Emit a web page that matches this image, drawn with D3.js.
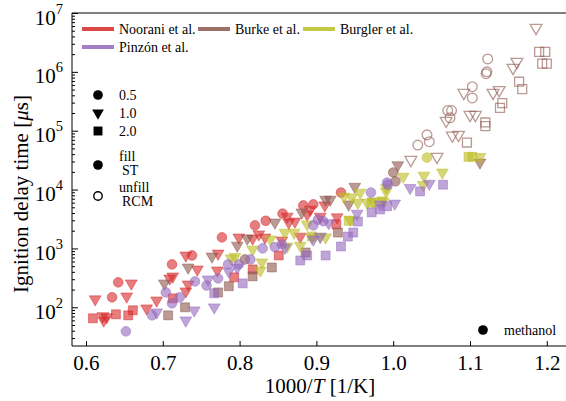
<!DOCTYPE html>
<meta charset="utf-8">
<script src="https://d3js.org/d3.v7.min.js"></script>
<style>
body{margin:0;background:#fff;}
svg{display:block;font-family:"Liberation Serif","Times New Roman",serif;}
</style>
<div id="chart"></div>
<script>
// series names + colours
var authors = ["Noorani et al.", "Burke et al.", "Burgler et al.", "Pinzón et al."]
var colors = ["#d62728", "#8c564b", "#bcbd22", "#9467bd"]
var pressures = ["0.5", "1.0", "2.0"]
var xTicks = [0.6, 0.7, 0.8, 0.9, 1.0, 1.1, 1.2]
var yTicks = [1e2, 1e3, 1e4, 1e5, 1e6, 1e7]

// [1000/T, ignition delay in us]
var nooraniCircle = [[0.642,265],[0.634,148],[0.712,535],[0.738,760],[0.777,1540],[0.820,2460],[0.834,2950],[0.856,3900],[0.883,5370],[0.896,5600],[0.932,8900]]
var nooraniTri = [[0.612,137],[0.622,71],[0.627,68],[0.623,60],[0.653,153],[0.659,255],[0.679,96],[0.692,131],[0.709,310],[0.713,335],[0.730,187],[0.733,245],[0.730,760],[0.745,440],[0.771,424],[0.772,820],[0.799,1540],[0.817,1480],[0.825,1740],[0.833,1540],[0.855,1370],[0.862,3480],[0.864,2760],[0.872,2870],[0.879,1590],[0.892,4560],[0.905,3480],[0.888,3780],[0.911,5400],[0.927,3390]]
var nooraniSquare = [[0.609,65],[0.639,76],[0.655,73],[0.661,89],[0.713,142],[0.793,323],[0.817,440],[0.851,760],[0.926,2570]]

var burkeCircle = [[0.807,650],[1.003,13800],[1.000,19500]]
var burkeTri = [[0.702,255],[0.733,475],[0.764,730],[0.797,1120],[0.810,1480],[0.846,2760],[0.881,4100],[0.912,6760],[0.918,6760],[0.942,5600],[0.950,11200],[1.006,26000],[1.113,28900]]
var burkeSquare = [[0.707,73],[0.729,100],[0.772,179],[0.786,228],[0.817,335],[0.842,475],[0.886,855],[0.928,1860]]
// RCM (open markers)
var burkeCircleRCM = [[1.123,1660000],[1.122,1000000],[1.121,930000],[1.103,560000],[1.103,360000],[1.071,220000],[1.076,220000],[1.074,166000],[1.044,85000],[1.047,65000],[1.032,57000]]
var burkeTriRCM = [[1.186,5600000],[1.161,1480000],[1.156,1170000],[1.138,490000],[1.130,440000],[1.092,440000],[1.069,148000],[1.100,186000],[1.107,186000],[1.077,83000],[1.085,85000],[1.023,32000],[1.057,36000]]
var burkeSquareRCM = [[1.190,2190000],[1.198,2190000],[1.194,1380000],[1.200,1380000],[1.164,680000],[1.168,510000],[1.142,295000],[1.139,245000],[1.120,138000],[1.120,120000],[1.096,63000]]

var burglerCircle = [[1.044,34900]]
var burglerTri = [[0.789,680],[0.794,720],[0.817,960],[0.827,424],[0.829,580],[0.840,1420],[0.859,1860],[0.871,1860],[0.862,1080],[0.879,1120],[0.888,2570],[0.894,1540],[0.905,1590],[0.912,1540],[0.936,7600],[0.946,7400],[0.944,3090],[0.954,6000],[0.966,6000],[0.974,6300],[0.987,6300],[0.991,9300],[1.013,16600],[1.039,12000],[1.040,17300],[1.064,19500],[1.113,36000],[0.957,8900],[0.991,10700]]
var burglerSquare = [[0.942,2950],[0.972,6000],[0.985,6300],[1.103,36000],[1.098,36000],[0.894,1600]]

var pinzonCircle = [[0.652,39],[0.686,73],[0.704,179],[0.712,117],[0.722,148],[0.742,275],[0.757,235],[0.772,310],[0.785,535],[0.799,535],[0.814,650],[0.830,1000],[0.846,1050],[0.855,1170],[0.896,2460],[0.909,2900],[0.902,3090],[0.971,8900],[0.993,12100],[0.992,13200]]
var pinzonTri = [[0.692,82],[0.730,60],[0.741,89],[0.767,100],[0.759,298],[0.786,405],[0.797,470],[0.859,1030],[0.896,1420],[0.905,1590],[0.916,2700],[0.953,3900],[0.983,5600],[1.002,5800],[1.022,10700],[1.047,12600]]
var pinzonSquare = [[0.767,173],[0.804,255],[0.879,625],[0.888,760],[0.912,760],[0.932,1080],[0.941,1590],[0.948,1860],[0.954,2870],[0.972,4100],[0.983,4600],[0.992,5200],[1.035,9300],[1.065,12100]]

var W = 566, H = 401
var pl = 72, pr = 566, pt = 13, pb = 346
var serif = "'Liberation Serif','Times New Roman',serif"

var svg = d3.select("#chart").append("svg").attr("width", W).attr("height", H)

var x = d3.scaleLinear().domain([0.5818, 1.225]).range([pl, pr])
var y = d3.scaleLog().domain([22, 1e7]).range([pb, pt])

var shapes = {
	circle: {type: d3.symbolCircle, size: 74, rot: 0},
	tri: {type: d3.symbolTriangle, size: 60, rot: 180},
	square: {type: d3.symbolSquare, size: 80, rot: 0}
}

var groups = [
	{data: nooraniCircle, c: 0, s: "circle"}, {data: nooraniTri, c: 0, s: "tri"}, {data: nooraniSquare, c: 0, s: "square"},
	{data: burkeCircle, c: 1, s: "circle"}, {data: burkeTri, c: 1, s: "tri"}, {data: burkeSquare, c: 1, s: "square"},
	{data: burkeCircleRCM, c: 1, s: "circle", open: true}, {data: burkeTriRCM, c: 1, s: "tri", open: true}, {data: burkeSquareRCM, c: 1, s: "square", open: true},
	{data: burglerCircle, c: 2, s: "circle"}, {data: burglerTri, c: 2, s: "tri"}, {data: burglerSquare, c: 2, s: "square"},
	{data: pinzonCircle, c: 3, s: "circle"}, {data: pinzonTri, c: 3, s: "tri"}, {data: pinzonSquare, c: 3, s: "square"}
]

var plot = svg.append("g")
groups.forEach(function(g){
	var sh = shapes[g.s]
	var col = colors[g.c]
	plot.selectAll(null).data(g.data).enter().append("path")
		.attr("d", d3.symbol().type(sh.type).size(sh.size))
		.attr("transform", function(d){ return "translate(" + x(d[0]) + "," + y(d[1]) + ") rotate(" + sh.rot + ")" })
		.attr("fill", g.open ? "none" : col)
		.attr("fill-opacity", 0.6)
		.attr("stroke", col)
		.attr("stroke-opacity", 0.6)
		.attr("stroke-width", g.open ? 1.3 : 0.8)
})

// axes
var xAxis = d3.axisBottom(x).tickValues(xTicks).tickFormat(d3.format(".1f")).tickSize(-5).tickPadding(9)
var gx = svg.append("g").attr("transform", "translate(0," + pb + ")").call(xAxis)
gx.attr("font-family", serif)
gx.select(".domain").attr("d", "M" + pl + ",0H" + pr)
gx.selectAll("text").attr("font-size", 21).attr("font-family", serif).attr("fill", "#000")

var minors = []
for (var e = 1; e < 7; e++) {
	for (var m = 2; m < 10; m++) {
		var v = m * Math.pow(10, e)
		if (v >= 22 && v <= 1e7) minors.push(v)
	}
}
var gyMinor = svg.append("g").attr("transform", "translate(" + pl + ",0)")
	.call(d3.axisLeft(y).tickValues(minors).tickFormat("").tickSize(-3))
gyMinor.select(".domain").remove()

var gy = svg.append("g").attr("transform", "translate(" + pl + ",0)")
	.call(d3.axisLeft(y).tickValues(yTicks).tickFormat("").tickSize(-6))
gy.attr("font-family", serif)
gy.select(".domain").attr("d", "M0," + pt + "V" + pb)
gy.selectAll(".tick").each(function(d){
	var t = d3.select(this).append("text").attr("x", -9).attr("y", 11)
		.attr("text-anchor", "end").attr("fill", "#000")
		.attr("font-size", 21).attr("font-family", serif)
	t.append("tspan").text("10")
	t.append("tspan").attr("dy", -11).attr("font-size", 14.5).text(Math.round(Math.log10(d)))
})

// top spine
svg.append("line").attr("x1", pl).attr("x2", pr).attr("y1", pt).attr("y2", pt)
	.attr("stroke", "#000").attr("stroke-width", 1.2)

// axis labels
var xl = svg.append("text").attr("x", 320).attr("y", 393).attr("text-anchor", "middle")
	.attr("font-size", 21)
xl.append("tspan").text("1000/")
xl.append("tspan").attr("font-style", "italic").text("T")
xl.append("tspan").text(" [1/K]")

var yl = svg.append("text").attr("transform", "translate(28,194) rotate(-90)").attr("text-anchor", "middle")
	.attr("font-size", 21)
yl.append("tspan").text("Ignition delay time [")
yl.append("tspan").attr("font-style", "italic").text("μ")
yl.append("tspan").text("s]")

// colour legend
var legPos = [[82, 29], [198, 29], [303, 29], [82, 47]]
authors.forEach(function(a, i){
	var p = legPos[i]
	svg.append("line").attr("x1", p[0]).attr("x2", p[0] + 32).attr("y1", p[1]).attr("y2", p[1])
		.attr("stroke", colors[i]).attr("stroke-width", 4).attr("stroke-opacity", 0.85)
	svg.append("text").attr("x", p[0] + 37).attr("y", p[1] + 4.5).attr("font-size", 14).text(a)
})

// marker legend
var shapeKeys = ["circle", "tri", "square"]
pressures.forEach(function(pv, i){
	var sh = shapes[shapeKeys[i]]
	var yy = 95 + i * 18
	svg.append("path").attr("d", d3.symbol().type(sh.type).size(sh.size))
		.attr("transform", "translate(98," + yy + ") rotate(" + sh.rot + ")").attr("fill", "#000")
	svg.append("text").attr("x", 119).attr("y", yy + 4.5).attr("font-size", 14).text(pv)
})
svg.append("path").attr("d", d3.symbol().type(d3.symbolCircle).size(74))
	.attr("transform", "translate(98,165)").attr("fill", "#000")
svg.append("text").attr("x", 119).attr("y", 161).attr("font-size", 14).text("fill")
svg.append("text").attr("x", 122).attr("y", 175).attr("font-size", 14).text("ST")
svg.append("path").attr("d", d3.symbol().type(d3.symbolCircle).size(56))
	.attr("transform", "translate(98,196)").attr("fill", "none").attr("stroke", "#000").attr("stroke-width", 1.4)
svg.append("text").attr("x", 119).attr("y", 192).attr("font-size", 14).text("unfill")
svg.append("text").attr("x", 122).attr("y", 206).attr("font-size", 14).text("RCM")

svg.append("path").attr("d", d3.symbol().type(d3.symbolCircle).size(74))
	.attr("transform", "translate(483,330)").attr("fill", "#000")
svg.append("text").attr("x", 504).attr("y", 334.5).attr("font-size", 14).text("methanol")
</script>
